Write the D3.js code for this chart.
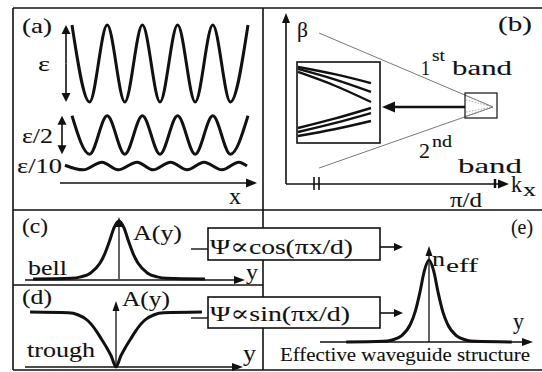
<!DOCTYPE html>
<html>
<head>
<meta charset="utf-8">
<script src="https://cdn.jsdelivr.net/npm/d3@7"></script>
<style>
  body { margin: 0; background: #fff; }
  text { font-family: "Liberation Serif", "DejaVu Serif", "Times New Roman", serif; fill: #111; stroke: #111; stroke-width: 0.1; }
</style>
</head>
<body>
<svg id="fig" width="542" height="372" font-family="Liberation Serif, DejaVu Serif, serif"></svg>
<script>
// ---- data ----
// (a) modulation profiles: extrema positions (in periods) and values (in units of eps)
const epsX = [0, 0.5, 1, 1.5, 2, 2.5, 3, 3.5, 4, 4.5, 5];
const epsFull = [1, -1, 1, -1, 1, -1, 1, -1, 1, -1, 1];
const epsHalf = [0.5, -0.5, 0.5, -0.5, 0.5, -0.5, 0.5, -0.5, 0.5, -0.5, 0.5];
const epsTenthX = [-0.2, 0.32, 0.85, 1.31, 1.85, 2.3, 2.8, 3.27, 3.75, 4.26, 4.74, 4.97];
const epsTenth = [0.02, -0.1, 0.1, -0.1, 0.1, -0.1, 0.1, -0.1, 0.1, -0.1, 0.1, 0.0];
const epsLabels = ["ε", "ε/2", "ε/10"];

// (b) band diagram: kx in units of pi/d, beta normalised
const kxBand = [0.16, 1];
const beta1 = [0.888, 0.453];
const beta2 = [0.094, 0.453];
// inset (zoom near the gap): u across, v down, both 0..1
const insetU = [0, 0.5, 1];
const insetUpper = [[0.062, 0.15, 0.26], [0.086, 0.215, 0.37], [0.123, 0.29, 0.494]];
const insetLower = [[0.815, 0.70, 0.568], [0.864, 0.755, 0.63], [0.914, 0.83, 0.728]];

// (c) bell, (d) trough, (e) n_eff profiles
const profPos = [-0.9, -0.5, -0.4, -0.3, -0.2, -0.15, -0.1, -0.05, 0, 0.05, 0.1, 0.15, 0.2, 0.3, 0.4, 0.5, 0.9];
const bellAmp = [0, 0.013, 0.037, 0.1, 0.27, 0.43, 0.65, 0.89, 1, 0.89, 0.65, 0.43, 0.27, 0.1, 0.037, 0.013, 0];
const troughAmp = [1, 0.985, 0.95, 0.85, 0.64, 0.5, 0.36, 0.2, 0, 0.2, 0.36, 0.5, 0.64, 0.85, 0.95, 0.985, 1];
const neffAmp = [0, 0.008, 0.025, 0.074, 0.22, 0.37, 0.6, 0.87, 1, 0.87, 0.6, 0.37, 0.22, 0.074, 0.025, 0.008, 0];

const modeFormulas = ["Ψ∝cos(πx/d)", "Ψ∝sin(πx/d)"];

// ---- drawing ----
const svg = d3.select("#fig");
svg.append("rect").attr("width", 542).attr("height", 372).attr("fill", "#fff");

function arrow(g, x1, y1, x2, y2, o) {
  o = Object.assign({ w: 1.3, len: 9, hw: 4 }, o || {});
  const dx = x2 - x1, dy = y2 - y1, L = Math.hypot(dx, dy);
  const ux = dx / L, uy = dy / L;
  const bx = x2 - ux * o.len, by = y2 - uy * o.len;
  g.append("line").attr("x1", x1).attr("y1", y1).attr("x2", bx + ux).attr("y2", by + uy)
    .attr("stroke", "#111").attr("stroke-width", o.w);
  g.append("path")
    .attr("d", `M${x2},${y2}L${bx - uy * o.hw},${by + ux * o.hw}L${bx + uy * o.hw},${by - ux * o.hw}Z`)
    .attr("fill", "#111");
}
// text; the scan is stretched sideways, so widths are forced with textLength
function label(g, x, y, s, size, len) {
  const t = g.append("text").attr("x", x).attr("y", y).attr("font-size", size).text(s);
  if (len) t.attr("textLength", len).attr("lengthAdjust", "spacingAndGlyphs");
  return t;
}

// frame
const frame = svg.append("g").attr("stroke", "#111").attr("stroke-width", 1.6);
[[13, 8, 542, 8], [13, 8, 13, 370], [13, 370, 542, 370], [263, 8, 263, 370],
 [13, 210, 542, 210], [13, 285, 263, 285]].forEach(d =>
  frame.append("line").attr("x1", d[0]).attr("y1", d[1]).attr("x2", d[2]).attr("y2", d[3]));

// ---- (a) ----
const ga = svg.append("g");
const xa = d3.scaleLinear().domain([0, 5]).range([72, 248]);
const ampA = 38.5;
const waveCenters = [63.5, 135, 166];
const waves = [
  { xs: epsX, ys: epsFull },
  { xs: epsX, ys: epsHalf },
  { xs: epsTenthX, ys: epsTenth }
];
waves.forEach((wv, i) => {
  const ya = d3.scaleLinear().domain([-1, 1]).range([waveCenters[i] + ampA, waveCenters[i] - ampA]);
  wv.ya = ya;
  ga.append("path")
    .datum(wv.xs.map((x, j) => [x, wv.ys[j]]))
    .attr("fill", "none").attr("stroke", "#111").attr("stroke-width", 3)
    .attr("d", d3.line().x(d => xa(d[0])).y(d => ya(d[1])).curve(d3.curveMonotoneX));
});
// double arrows for eps and eps/2
function dbl(x, y1, y2) {
  const m = (y1 + y2) / 2;
  arrow(ga, x, m, x, y1, { w: 1.6, len: 9, hw: 4.5 });
  arrow(ga, x, m, x, y2, { w: 1.6, len: 9, hw: 4.5 });
}
dbl(66, waves[0].ya(1), waves[0].ya(-1));
dbl(62, waves[1].ya(0.5), waves[1].ya(-0.5));
label(ga, 22, 33, "(a)", 22, 30);
label(ga, 38, 71, epsLabels[0], 22, 12);
label(ga, 22, 143, epsLabels[1], 21, 31);
label(ga, 17, 173, epsLabels[2], 21, 45);
arrow(ga, 60, 183, 257, 183, { w: 1.6, len: 11, hw: 4.5 });
label(ga, 229, 204, "x", 23, 12);

// ---- (b) ----
const gb = svg.append("g");
const xb = d3.scaleLinear().domain([0, 1]).range([286, 493]);
const yb = d3.scaleLinear().domain([0, 1]).range([184, 14]);
arrow(gb, 286, 184, 286, 13, { w: 1.6, len: 10, hw: 4 });
arrow(gb, 286, 184, 509, 184, { w: 1.6, len: 11, hw: 4.5 });
[314, 319].forEach(x => gb.append("line").attr("x1", x).attr("x2", x).attr("y1", 177).attr("y2", 190)
  .attr("stroke", "#111").attr("stroke-width", 1.6));
gb.append("line").attr("x1", xb(1) + 2).attr("x2", xb(1) + 2).attr("y1", 179).attr("y2", 188)
  .attr("stroke", "#111").attr("stroke-width", 2.5);
[beta1, beta2].forEach(b => {
  gb.append("path").datum(kxBand.map((k, j) => [k, b[j]]))
    .attr("fill", "none").attr("stroke", "#555").attr("stroke-width", 0.8)
    .attr("d", d3.line().x(d => xb(d[0])).y(d => yb(d[1])));
});
// small zoom box with fanning dotted bands
const tip = [xb(1), yb(beta1[1])];
[96, 100, 112, 116].forEach(y => gb.append("line").attr("x1", 466).attr("y1", y)
  .attr("x2", tip[0]).attr("y2", tip[1]).attr("stroke", "#888").attr("stroke-width", 0.7)
  .attr("stroke-dasharray", "1.5,1.5"));
gb.append("rect").attr("x", 465).attr("y", 93).attr("width", 32).attr("height", 25)
  .attr("fill", "none").attr("stroke", "#111").attr("stroke-width", 1.2);
arrow(gb, 465, 107, 382, 107, { w: 2.6, len: 13, hw: 5.5 });
// inset
gb.append("rect").attr("x", 297).attr("y", 62).attr("width", 83).attr("height", 81)
  .attr("fill", "#fff").attr("stroke", "#111").attr("stroke-width", 1.6);
const xi = d3.scaleLinear().domain([0, 1]).range([298, 371]);
const yi = d3.scaleLinear().domain([0, 1]).range([62, 143]);
insetUpper.concat(insetLower).forEach(vs => {
  gb.append("path").datum(insetU.map((u, j) => [u, vs[j]]))
    .attr("fill", "none").attr("stroke", "#111").attr("stroke-width", 2.4)
    .attr("d", d3.line().x(d => xi(d[0])).y(d => yi(d[1])).curve(d3.curveNatural));
});
label(gb, 297, 37, "β", 22, 11);
label(gb, 498, 31, "(b)", 22, 34);
label(gb, 421, 75, "1", 22, 9);
label(gb, 432, 61, "st", 16, 13);
label(gb, 452, 75, "band", 22, 60);
label(gb, 419, 158, "2", 22, 11);
label(gb, 432, 147, "nd", 16, 20);
label(gb, 458, 173, "band", 22, 64);
label(gb, 450, 207, "π/d", 20, 32);
label(gb, 511, 192, "k", 23, 11);
label(gb, 523, 196, "x", 18, 13);

// ---- profiles (c),(d),(e) ----
function profile(g, amps, cx, half, yBase, yTop) {
  const x = d3.scaleLinear().domain([-1, 1]).range([cx - half, cx + half]);
  const y = d3.scaleLinear().domain([0, 1]).range([yBase, yTop]);
  g.append("path").datum(profPos.map((p, j) => [p, amps[j]]))
    .attr("fill", "none").attr("stroke", "#111").attr("stroke-width", 3)
    .attr("d", d3.line().x(d => x(d[0])).y(d => y(d[1])).curve(d3.curveMonotoneX));
  return { x, y };
}
const gc = svg.append("g");
arrow(gc, 25, 280, 245, 280, { w: 1.6, len: 11, hw: 4 });
profile(gc, bellAmp, 119, 95.5, 279, 221);
arrow(gc, 119, 279, 119, 217, { w: 1.3, len: 10, hw: 3.5 });
label(gc, 22, 233, "(c)", 22, 26);
label(gc, 133, 240, "A(y)", 22, 49);
label(gc, 28, 275, "bell", 22, 39);
label(gc, 246, 279, "y", 22, 12);

const gd = svg.append("g");
arrow(gd, 25, 367, 243, 367, { w: 1.6, len: 11, hw: 4 });
profile(gd, troughAmp, 116, 95.5, 367, 312);
arrow(gd, 116, 367, 116, 301, { w: 1.3, len: 10, hw: 3.5 });
label(gd, 22, 304, "(d)", 22, 30);
label(gd, 122, 306, "A(y)", 22, 48);
label(gd, 27, 357, "trough", 22, 68);
label(gd, 243, 361, "y", 23, 13);

const ge = svg.append("g");
arrow(ge, 320, 342, 533, 342, { w: 1.6, len: 11, hw: 4 });
profile(ge, neffAmp, 429, 92, 342, 260);
arrow(ge, 429, 342, 429, 246, { w: 1.3, len: 10, hw: 3.5 });
label(ge, 511, 234, "(e)", 22, 22);
label(ge, 432, 266, "n", 22, 13);
label(ge, 446, 272, "eff", 18, 32);
label(ge, 513, 329, "y", 23, 11);
label(ge, 280, 361, "Effective waveguide structure", 19, 250);

// formula boxes
const boxes = [
  { y: 228, h: 32, base: 254, conn: 249, out: 247 },
  { y: 297, h: 31, base: 321, conn: 318, out: 313 }
];
boxes.forEach((b, i) => {
  svg.append("line").attr("x1", 191).attr("x2", 208).attr("y1", b.conn).attr("y2", b.conn)
    .attr("stroke", "#111").attr("stroke-width", 1.4);
  svg.append("rect").attr("x", 208).attr("y", b.y).attr("width", 172).attr("height", b.h)
    .attr("fill", "#fff").attr("stroke", "#111").attr("stroke-width", 1.6);
  label(svg, 210, b.base, modeFormulas[i], 22, i ? 140 : 143);
  arrow(svg, 380, b.out, 403, b.out, { w: 1.6, len: 9, hw: 4 });
});
</script>
</body>
</html>
